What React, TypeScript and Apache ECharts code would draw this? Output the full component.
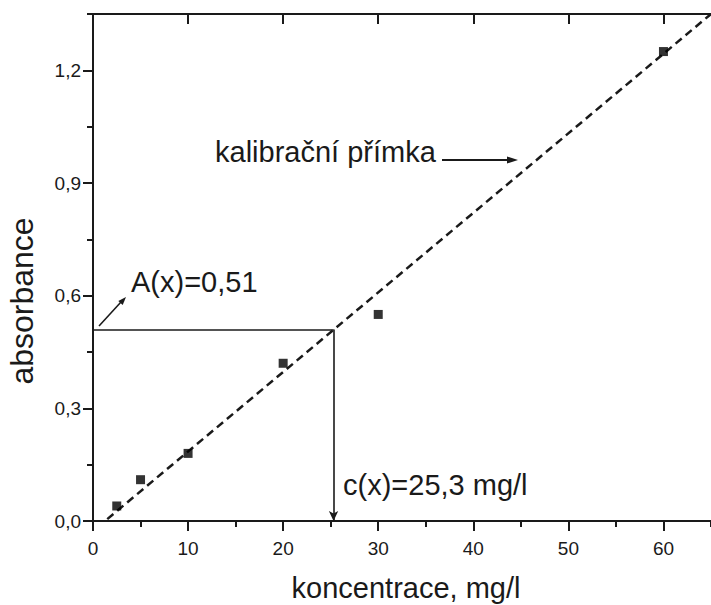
import React, { useEffect, useRef } from "react";
import * as echarts from "echarts";

// measured calibration points
const concentration = [2.5, 5, 10, 20, 30, 60];
const absorbance = [0.04, 0.11, 0.18, 0.42, 0.55, 1.25];

// calibration line (dashed) end points
const lineX = [1.5, 65];
const lineY = [0.005, 1.35];

// determined sample
const sampleAbs = 0.51;
const sampleConc = 25.3;

// axes
const xMajorTicks = [0, 10, 20, 30, 40, 50, 60];
const yMajorTicks = [0, 0.3, 0.6, 0.9, 1.2];
const xMax = 65;
const yMax = 1.35;

const FONT = '"Liberation Sans", Arial, Helvetica, sans-serif';
const INK = "#1a1a1a";

export default function App() {
  const ref = useRef<HTMLDivElement>(null);

  useEffect(() => {
    if (!ref.current) return;
    const chart = echarts.init(ref.current, undefined, { renderer: "svg" });

    const axisLine = { show: true, onZero: false, lineStyle: { color: INK, width: 2 } };
    const fmtY = (v: number) => v.toFixed(1).replace(".", ",");

    const option: any = {
      animation: false,
      backgroundColor: "#ffffff",
      grid: { left: 93, right: 0, top: 14, bottom: 84, containLabel: false },
      xAxis: [
        {
          type: "value",
          position: "bottom",
          min: 0,
          max: xMax,
          interval: 5,
          axisLine,
          splitLine: { show: false },
          axisTick: {
            show: true,
            customValues: xMajorTicks,
            length: 10,
            lineStyle: { color: INK, width: 2 },
          },
          axisLabel: {
            customValues: xMajorTicks,
            margin: 18,
            fontSize: 19,
            fontFamily: FONT,
            color: INK,
          },
        },
        {
          type: "value",
          position: "top",
          min: 0,
          max: xMax,
          interval: 5,
          axisLine,
          splitLine: { show: false },
          axisTick: {
            show: true,
            inside: true,
            customValues: xMajorTicks,
            length: 10,
            lineStyle: { color: INK, width: 2 },
          },
          axisLabel: { show: false },
        },
        {
          type: "value",
          position: "bottom",
          min: 0,
          max: xMax,
          interval: 5,
          axisLine: { show: false },
          splitLine: { show: false },
          axisTick: { show: true, length: 6, lineStyle: { color: INK, width: 2 } },
          axisLabel: { show: false },
        },
        {
          type: "value",
          position: "top",
          min: 0,
          max: xMax,
          interval: 5,
          axisLine: { show: false },
          splitLine: { show: false },
          axisTick: { show: true, inside: true, length: 6, lineStyle: { color: INK, width: 2 } },
          axisLabel: { show: false },
        },
      ],
      yAxis: [
        {
          type: "value",
          position: "left",
          min: 0,
          max: yMax,
          interval: 0.15,
          axisLine,
          splitLine: { show: false },
          axisTick: {
            show: true,
            customValues: yMajorTicks,
            length: 10,
            lineStyle: { color: INK, width: 2 },
          },
          axisLabel: {
            customValues: yMajorTicks,
            formatter: fmtY,
            margin: 12,
            fontSize: 19,
            fontFamily: FONT,
            color: INK,
          },
        },
        {
          type: "value",
          position: "right",
          min: 0,
          max: yMax,
          interval: 0.15,
          axisLine: { show: false },
          splitLine: { show: false },
          axisTick: {
            show: true,
            inside: true,
            customValues: yMajorTicks,
            length: 6,
            lineStyle: { color: INK, width: 2 },
          },
          axisLabel: { show: false },
        },
        {
          type: "value",
          position: "left",
          min: 0,
          max: yMax,
          interval: 0.15,
          axisLine: { show: false },
          splitLine: { show: false },
          axisTick: { show: true, length: 6, lineStyle: { color: INK, width: 2 } },
          axisLabel: { show: false },
        },
      ],
      series: [
        {
          type: "line",
          name: "kalibrační přímka",
          xAxisIndex: 0,
          yAxisIndex: 0,
          data: lineX.map((x, i) => [x, lineY[i]]),
          showSymbol: false,
          symbol: "none",
          lineStyle: { color: INK, width: 2.5, type: [8, 5] },
          z: 2,
        },
        {
          type: "scatter",
          name: "body",
          xAxisIndex: 0,
          yAxisIndex: 0,
          data: concentration.map((x, i) => [x, absorbance[i]]),
          symbol: "rect",
          symbolSize: 9,
          itemStyle: { color: "#000000" },
          z: 3,
          markLine: {
            silent: true,
            label: { show: false },
            lineStyle: { color: INK, width: 1.6, type: "solid" },
            symbolSize: [7, 10],
            data: [
              [
                { coord: [0, sampleAbs], symbol: "none" },
                { coord: [sampleConc, sampleAbs], symbol: "none" },
              ],
              [
                { coord: [sampleConc, sampleAbs], symbol: "none" },
                { coord: [sampleConc, 0], symbol: "arrow" },
              ],
            ],
          },
        },
      ],
      graphic: [
        {
          type: "text",
          x: 215,
          y: 152,
          style: {
            text: "kalibrační přímka",
            font: `29px ${FONT}`,
            fill: INK,
            align: "left",
            verticalAlign: "middle",
          },
        },
        {
          type: "line",
          shape: { x1: 442, y1: 160, x2: 510, y2: 160 },
          style: { stroke: INK, lineWidth: 2 },
        },
        {
          type: "polygon",
          shape: { points: [[518, 160], [507, 156.5], [507, 163.5]] },
          style: { fill: INK },
        },
        {
          type: "text",
          x: 131,
          y: 282,
          style: {
            text: "A(x)=0,51",
            font: `29px ${FONT}`,
            fill: INK,
            align: "left",
            verticalAlign: "middle",
          },
        },
        {
          type: "line",
          shape: { x1: 99, y1: 326, x2: 121, y2: 302 },
          style: { stroke: INK, lineWidth: 1.6 },
        },
        {
          type: "polygon",
          shape: { points: [[126, 297], [122.7, 304.9], [118.3, 300.9]] },
          style: { fill: INK },
        },
        {
          type: "text",
          x: 343,
          y: 485,
          style: {
            text: "c(x)=25,3 mg/l",
            font: `29px ${FONT}`,
            fill: INK,
            align: "left",
            verticalAlign: "middle",
          },
        },
        {
          type: "text",
          x: 406,
          y: 588,
          style: {
            text: "koncentrace, mg/l",
            font: `29px ${FONT}`,
            fill: INK,
            align: "center",
            verticalAlign: "middle",
          },
        },
        {
          type: "text",
          x: 22,
          y: 301,
          rotation: Math.PI / 2,
          style: {
            text: "absorbance",
            font: `32px ${FONT}`,
            fill: INK,
            align: "center",
            verticalAlign: "middle",
          },
        },
      ],
    };

    chart.setOption(option);
    return () => chart.dispose();
  }, []);

  return (
    <div
      ref={ref}
      style={{ position: "absolute", left: 0, top: 0, width: 711, height: 605, background: "#fff" }}
    />
  );
}
